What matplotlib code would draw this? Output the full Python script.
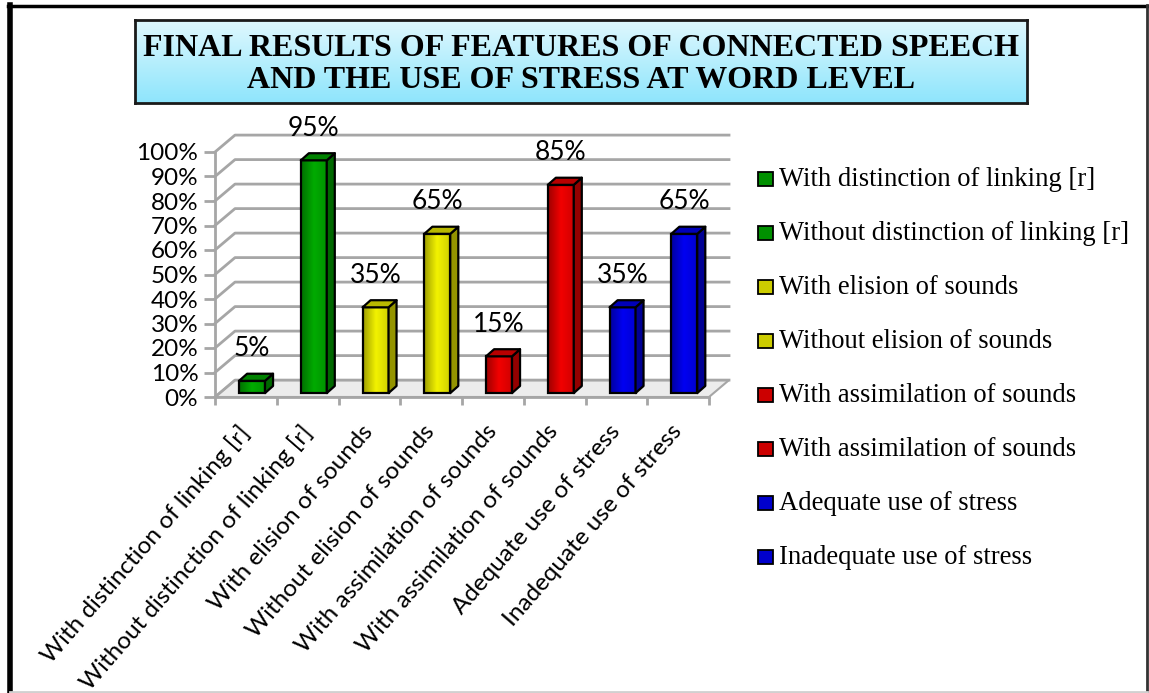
import numpy as np
import matplotlib
matplotlib.use("Agg")
import matplotlib.pyplot as plt
from matplotlib.patches import Polygon, Rectangle
from matplotlib.lines import Line2D
from matplotlib.colors import LinearSegmentedColormap, to_rgb
from matplotlib.transforms import ScaledTranslation

# ---- data ----
categories = [
    "With distinction of linking [r]",
    "Without distinction of linking [r]",
    "With elision of sounds",
    "Without elision of sounds",
    "With assimilation of sounds",
    "With assimilation of sounds",
    "Adequate use of stress",
    "Inadequate use of stress",
]
values = [5, 95, 35, 65, 15, 85, 35, 65]
bar_colors = ["#00b400", "#00b400", "#ffff00", "#ffff00",
              "#ff0000", "#ff0000", "#0000ff", "#0000ff"]
yticks = list(range(0, 101, 10))
ytick_labels = [f"{v}%" for v in yticks]
title_lines = ["FINAL RESULTS OF FEATURES OF CONNECTED SPEECH",
               "AND THE USE OF STRESS AT WORD LEVEL"]

W, H = 1149, 693
fig = plt.figure(figsize=(W / 100, H / 100), dpi=100)
fig.patch.set_facecolor("white")


def fx(px):
    return px / W


def fy(py):
    return 1 - py / H


def shade(c, k):
    r, g, b = to_rgb(c)
    return (r * k, g * k, b * k)


# ---- plot area (front plane of the 3-D box) ----
ax = fig.add_axes([fx(215), fy(397), (709 - 215) / W, (397 - 152) / H])
ax.patch.set_visible(False)
n = len(values)

GRID = "#a6a6a6"
# depth of the box (wall offset) in data units
DX, DY = 0.324, 6.9
# bar geometry in data units
BX, BY = 0.10, 1.6          # bar base shift into the box
BW = 0.42                   # front face width
BDX, BDY = 0.13, 2.9        # bar depth

x0, x1 = -0.5, n - 0.5
# floor
ax.add_patch(Polygon([(x0, 0), (x1, 0), (x1 + DX, DY), (x0 + DX, DY)],
                     closed=True, facecolor="#ececec", edgecolor=GRID,
                     lw=1.5, clip_on=False, zorder=1))
# back-wall gridlines with their diagonal on the side wall
for v in yticks:
    ax.add_line(Line2D([x0, x0 + DX, x1 + DX], [v, v + DY, v + DY],
                       color=GRID, lw=2, clip_on=False, zorder=1.5))

# bars
for i, (v, c) in enumerate(zip(values, bar_colors)):
    left = i - BW / 2 + BX
    right = left + BW
    bot = BY
    top = BY + v
    cmap = LinearSegmentedColormap.from_list(
        f"g{i}", [shade(c, 0.62), shade(c, 0.95), shade(c, 0.82)])
    grad = np.linspace(0, 1, 64).reshape(1, -1)
    ax.imshow(grad, cmap=cmap, extent=(left, right, bot, top),
              aspect="auto", origin="lower", zorder=3, clip_on=False,
              interpolation="bilinear")
    ax.add_patch(Rectangle((left, bot), BW, v, facecolor="none",
                           edgecolor="black", lw=1.6, zorder=4,
                           clip_on=False))
    # side face
    ax.add_patch(Polygon([(right, bot), (right + BDX, bot + BDY),
                          (right + BDX, top + BDY), (right, top)],
                         closed=True, facecolor=shade(c, 0.58),
                         edgecolor="black", lw=1.6, zorder=4,
                         clip_on=False, joinstyle="round"))
    # top face
    ax.add_patch(Polygon([(left, top), (right, top),
                          (right + BDX, top + BDY), (left + BDX, top + BDY)],
                         closed=True, facecolor=shade(c, 0.72),
                         edgecolor="black", lw=1.6, zorder=4,
                         clip_on=False, joinstyle="round"))
    # value label
    ax.annotate(f"{v}%", xy=(left + BW / 2, top), xytext=(0, 32),
                textcoords="offset pixels", ha="center", va="center",
                fontsize=19, family="Lato", color="black",
                annotation_clip=False, zorder=6)

ax.set_xlim(x0, x1)
ax.set_ylim(0, 100)

# axes
for s in ("top", "right"):
    ax.spines[s].set_visible(False)
for s in ("left", "bottom"):
    ax.spines[s].set_color(GRID)
    ax.spines[s].set_linewidth(2)
ax.spines["left"].set_zorder(2)
ax.spines["bottom"].set_zorder(2)
ax.set_yticks(yticks, ytick_labels)
ax.tick_params(axis="y", length=8, width=2, color=GRID, pad=4,
               labelsize=17.5)
for lbl in ax.get_yticklabels():
    lbl.set_family("Lato")
ax.set_xticks(np.arange(-0.5, n, 1.0), [""] * (n + 1))
ax.tick_params(axis="x", length=6, width=2, color=GRID)

# category labels, rotated
off = ScaledTranslation(-8 / 100, -24 / 100, fig.dpi_scale_trans)
for i, cat in enumerate(categories):
    ax.text(i, 0, cat, rotation=49, rotation_mode="anchor", ha="right",
            va="top", fontsize=17.5, family="Lato",
            transform=ax.transData + off, clip_on=False)

# ---- title box ----
tax = fig.add_axes([fx(135), fy(103), (1027 - 135) / W, (103 - 20) / H])
tgrad = np.linspace(0, 1, 128).reshape(-1, 1)
tcmap = LinearSegmentedColormap.from_list("tt", ["#dff8fe", "#8ee5fc"])
tax.imshow(tgrad, cmap=tcmap, aspect="auto", extent=(0, 1, 0, 1),
           origin="upper")
tax.set_xticks([])
tax.set_yticks([])
for s in tax.spines.values():
    s.set_color("#1a1a1a")
    s.set_linewidth(2)
for k, line in enumerate(title_lines):
    fig.text(fx(581), fy(48 + 33 * k), line, ha="center", va="center",
             fontsize=23, fontweight="bold", family="Liberation Serif",
             color="black")

# ---- legend ----
for k, (cat, c) in enumerate(zip(categories, bar_colors)):
    yc = 179 + 54 * k
    fig.patches.append(Rectangle((fx(758), fy(yc + 7)), 15 / W, 14 / H,
                                 transform=fig.transFigure,
                                 facecolor=shade(c, 0.8),
                                 edgecolor="black", lw=1.3))
    fig.text(fx(779), fy(yc), cat, ha="left", va="center",
             fontsize=19.2, family="Liberation Serif", color="black")

# ---- outer frame ----
fig.add_artist(Line2D([fx(10), fx(10)], [fy(5), fy(693)], color="black",
                      lw=4, transform=fig.transFigure))
fig.add_artist(Line2D([fx(8), fx(1147)], [fy(6), fy(6)], color="black",
                      lw=2.5, transform=fig.transFigure))
fig.add_artist(Line2D([fx(1146.5), fx(1146.5)], [fy(5), fy(693)],
                      color="#333333", lw=2, transform=fig.transFigure))
fig.add_artist(Line2D([fx(10), fx(1147)], [fy(691.5), fy(691.5)],
                      color="#d0d0d0", lw=2, transform=fig.transFigure))

fig.savefig("out.png", dpi=100, facecolor="white")
